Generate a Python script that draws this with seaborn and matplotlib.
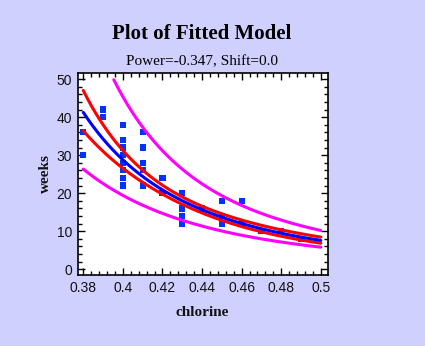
import numpy as np
import pandas as pd
import matplotlib
matplotlib.use("Agg")
import matplotlib.pyplot as plt
import seaborn as sns
from matplotlib.ticker import MultipleLocator

# Data (chlorine vs weeks)
weeks = [8, 8, 10, 10, 10, 10, 12, 12, 12, 12, 14, 14, 14, 16, 16, 16, 18, 18,
         20, 20, 20, 22, 22, 22, 24, 24, 24, 26, 26, 26, 28, 28, 30, 30, 30,
         32, 32, 34, 36, 36, 38, 38, 40, 42]
chlorine = [0.49, 0.49, 0.48, 0.47, 0.48, 0.47, 0.46, 0.46, 0.45, 0.43, 0.45,
            0.43, 0.43, 0.44, 0.43, 0.43, 0.46, 0.45, 0.42, 0.42, 0.43, 0.41,
            0.41, 0.40, 0.42, 0.40, 0.40, 0.41, 0.40, 0.41, 0.41, 0.40, 0.40,
            0.40, 0.38, 0.41, 0.40, 0.40, 0.41, 0.38, 0.40, 0.40, 0.39, 0.39]
power = -0.347
t_crit = 2.018  # t(0.975, df=42)
x_ticks = [0.38, 0.40, 0.42, 0.44, 0.46, 0.48, 0.50]
x_tick_labels = ["0.38", "0.4", "0.42", "0.44", "0.46", "0.48", "0.5"]
y_ticks = [0, 10, 20, 30, 40, 50]

# Fit transformed model: weeks^power = a + b*chlorine
x = np.array(chlorine)
y = np.array(weeks, dtype=float)
z = y ** power
n = len(x)
xbar = x.mean()
sxx = ((x - xbar) ** 2).sum()
b1 = ((x - xbar) * (z - z.mean())).sum() / sxx
b0 = z.mean() - b1 * xbar
s = np.sqrt(((z - b0 - b1 * x) ** 2).sum() / (n - 2))

xg = np.linspace(0.38, 0.50, 600)
zg = b0 + b1 * xg
se_m = s * np.sqrt(1 / n + (xg - xbar) ** 2 / sxx)
se_p = s * np.sqrt(1 + 1 / n + (xg - xbar) ** 2 / sxx)
inv = lambda v: v ** (1 / power)
curves = {
    "fit": inv(zg),
    "cm_lo": inv(zg + t_crit * se_m),
    "cm_hi": inv(zg - t_crit * se_m),
    "pr_lo": inv(zg + t_crit * se_p),
    "pr_hi": inv(zg - t_crit * se_p),
}
colors = {"fit": "#0000FF", "cm_lo": "#FF0000", "cm_hi": "#FF0000",
          "pr_lo": "#FF00FF", "pr_hi": "#FF00FF"}

sns.set_theme(style="white")
plt.rcParams["font.family"] = ["Liberation Sans", "DejaVu Sans"]
bg = "#D0D0FF"
fig = plt.figure(figsize=(4.25, 3.46), dpi=100, facecolor=bg)
ax = fig.add_axes([0.1824, 0.2043, 0.5887, 0.5857])
ax.set_facecolor("white")

df = pd.DataFrame({"chlorine": chlorine, "weeks": weeks})
sns.scatterplot(data=df, x="chlorine", y="weeks", ax=ax, marker="s", s=20,
                color="#0033FF", edgecolor="none", linewidth=0, zorder=2)

for key in ["pr_lo", "pr_hi", "cm_lo", "cm_hi", "fit"]:
    yy = curves[key]
    m = yy <= 50
    cdf = pd.DataFrame({"x": xg[m], "y": yy[m]})
    sns.lineplot(data=cdf, x="x", y="y", ax=ax, color=colors[key], lw=2.2,
                 sort=False, estimator=None, zorder=3)

ax.set_xlim(0.3771, 0.5035)
ax.set_ylim(-1.6, 51.7)
ax.set_xticks(x_ticks)
ax.set_xticklabels(x_tick_labels)
ax.set_yticks(y_ticks)
ax.xaxis.set_minor_locator(MultipleLocator(0.004))
ax.yaxis.set_minor_locator(MultipleLocator(2))
ax.tick_params(which="both", direction="in", top=True, right=True,
               bottom=True, left=True, color="black", labelsize=10,
               labelcolor="#111111")
ax.tick_params(which="major", length=5, width=1, pad=4)
ax.tick_params(which="minor", length=3, width=1)
for sp in ax.spines.values():
    sp.set_color("black")
    sp.set_linewidth(1.2)

serif = ["Liberation Serif", "DejaVu Serif"]
ax.set_xlabel("chlorine", family=serif, fontweight="bold", fontsize=11,
              color="#111111", labelpad=8)
ax.set_ylabel("weeks", family=serif, fontweight="bold", fontsize=11,
              color="#111111", labelpad=3)
fig.text(0.4745, 0.903, "Plot of Fitted Model", family=serif,
         fontweight="bold", fontsize=15, ha="center", va="center",
         color="black")
fig.text(0.4745, 0.823, "Power=-0.347, Shift=0.0", family=serif,
         fontsize=11, ha="center", va="center", color="black")

fig.savefig("out.png", dpi=100, facecolor=bg)
